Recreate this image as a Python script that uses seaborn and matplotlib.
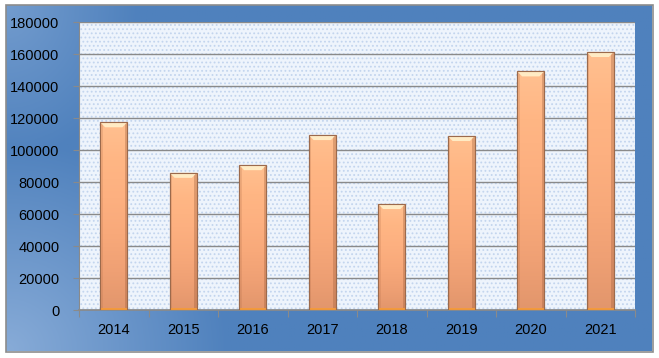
import numpy as np
import pandas as pd
import matplotlib
matplotlib.use("Agg")
import matplotlib.pyplot as plt
import seaborn as sns
from matplotlib.patches import Rectangle, Polygon

years = ["2014", "2015", "2016", "2017", "2018", "2019", "2020", "2021"]
values = [117400, 85800, 90600, 109400, 66300, 108800, 149200, 161300]
yticks = [0, 20000, 40000, 60000, 80000, 100000, 120000, 140000, 160000, 180000]

df = pd.DataFrame({"year": years, "value": values})

sns.set_theme(style="white")
plt.rcParams["font.family"] = ["Liberation Sans", "DejaVu Sans"]
plt.rcParams["hatch.linewidth"] = 0.8

W, H = 659, 358
fig = plt.figure(figsize=(W / 100, H / 100), dpi=100)
fig.patch.set_facecolor("white")

# blue gradient background panel
bg = fig.add_axes([6 / W, 1 - 351 / H, 646 / W, 346 / H])
bg.set_axis_off()
ny, nx = 200, 400
xx, yy = np.meshgrid(np.linspace(0, 1, nx), np.linspace(0, 1, ny))
d = np.clip(1 - np.sqrt((xx * 1.6) ** 2 + ((1 - yy) * 0.9) ** 2) / 0.55, 0, 1)
d2 = np.clip(1 - np.sqrt((xx * 2.2) ** 2 + (yy * 1.0) ** 2) / 0.45, 0, 1)
d = np.maximum(d * 0.8, d2 * 0.5)
base = np.array([79, 129, 189]) / 255
light = np.array([150, 182, 222]) / 255
img = base[None, None, :] * (1 - d[..., None]) + light[None, None, :] * d[..., None]
bg.imshow(img, aspect="auto", extent=[0, 1, 0, 1], origin="upper")
bg.set_xlim(0, 1)
bg.set_ylim(0, 1)
fig.patches.append(Rectangle((5.5 / W, 1 - 351.5 / H), 647 / W, 347 / H,
                             transform=fig.transFigure, fill=False,
                             edgecolor="#8c8c8c", linewidth=1.2, zorder=5))

ax = fig.add_axes([79 / W, 1 - 310 / H, 556 / W, 288 / H])
ax.set_facecolor("#eef4fc")
ax.add_patch(Rectangle((0, 0), 1, 1, transform=ax.transAxes, facecolor="none",
                       edgecolor="#c3d5ee", hatch="....", linewidth=0, zorder=0))

sns.barplot(data=df, x="year", y="value", ax=ax, color="#FDB283", width=0.39,
            edgecolor="#9c6a4c", linewidth=0.8, saturation=1, zorder=3)

bars = [p for p in list(ax.patches) if p.get_height() > 0 and p.get_width() < 1]

grad = np.linspace(0, 1, 200)[:, None]
cmap = matplotlib.colors.LinearSegmentedColormap.from_list(
    "bar", ["#FFC090", "#FFB684", "#FDB080", "#F8A97A", "#EFA074", "#E2966C"])
for p in bars:
    x0, w, h = p.get_x(), p.get_width(), p.get_height()
    im = ax.imshow(np.hstack([grad] * 3), extent=[x0, x0 + w, 0, h], aspect="auto",
                   cmap=cmap, vmin=0, vmax=1, zorder=3.5, origin="upper")
    im.set_clip_path(p)
    # side shading
    ax.add_patch(Rectangle((x0, 0), w * 0.1, h, facecolor="#b36e48", alpha=0.22,
                           linewidth=0, zorder=3.6))
    ax.add_patch(Rectangle((x0 + w * 0.9, 0), w * 0.1, h, facecolor="#9a5a38",
                           alpha=0.32, linewidth=0, zorder=3.6))
    # top bevel highlight
    th = 3200
    ax.add_patch(Polygon([(x0, h), (x0 + w, h), (x0 + w * 0.82, h - th),
                          (x0 + w * 0.18, h - th)], closed=True,
                         facecolor="#FFEBC4", linewidth=0, zorder=3.7))
    # orange base
    ax.add_patch(Rectangle((x0, 0), w, 1400, facecolor="#F39A3C", linewidth=0,
                           zorder=3.7))
    ax.add_patch(Rectangle((x0, 0), w, h, facecolor="none", edgecolor="#9c6a4c",
                           linewidth=0.8, zorder=3.8))

ax.set_xlim(-0.5, len(years) - 0.5)
ax.set_ylim(0, 180000)
ax.set_yticks(yticks)
ax.set_yticklabels([str(v) for v in yticks])
ax.yaxis.grid(True, color="#8a8a8a", linewidth=1.0, zorder=1)
ax.set_axisbelow(True)
ax.set_xlabel("")
ax.set_ylabel("")
for s in ax.spines.values():
    s.set_visible(False)
ax.spines["bottom"].set_visible(True)
ax.spines["bottom"].set_color("#8a8a8a")
ax.spines["left"].set_visible(True)
ax.spines["left"].set_color("#8a8a8a")
ax.spines["left"].set_linewidth(0.8)

ax.tick_params(axis="y", length=4, color="#8a8a8a", width=0.8, pad=10,
               labelsize=10.5, labelcolor="black", left=True)
ax.tick_params(axis="x", length=0, pad=9, labelsize=10.5, labelcolor="black")
ax.set_xticks(np.arange(-0.5, len(years)), minor=True)
ax.tick_params(axis="x", which="minor", length=5, color="#8a8a8a", width=0.8,
               bottom=True)

fig.savefig("out.png", dpi=100, facecolor="white")
